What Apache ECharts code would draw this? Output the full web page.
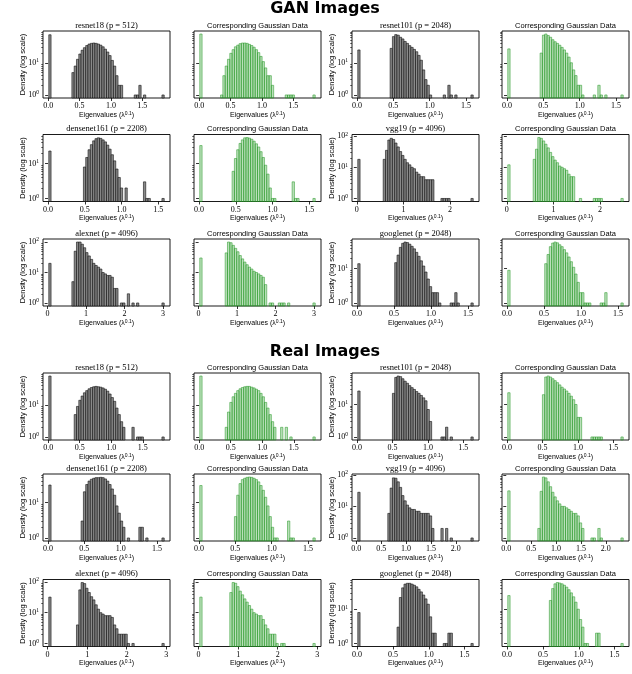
<!DOCTYPE html>
<html><head><meta charset="utf-8">
<script src="https://cdn.jsdelivr.net/npm/echarts@6/dist/echarts.min.js"></script>
<style>html,body{margin:0;padding:0;background:#fff}#c{width:632px;height:674px}</style>
</head><body><div id="c"></div><script>
// ---------- data: histogram counts (50 bins each) and eigenvalue ranges ----------
const ganResnet18 = [76,0,0,0,0,0,0,0,0,0, 5,8,13,19,25,30,35,39,41,42, 41,39,36,32,27,22,17,12,8,4, 2,2,0,0,0,0,0,1,1,2, 0,1,0,0,0,0,0,0,0,1];
const ganResnet18Gauss = [80,0,0,0,0,0,0,0,0,1, 4,8,13,20,26,32,36,40,42,42, 41,38,35,31,26,21,16,11,7,4, 4,2,0,0,0,0,0,1,1,1, 1,0,0,0,0,0,0,0,0,1];
const ganResnet101 = [25,0,0,0,0,0,0,0,0,0, 0,0,0,0,28,65,75,72,62,55, 46,40,34,30,26,22,17,12,6,3, 2,1,0,0,0,0,0,1,0,2, 1,0,1,0,0,0,0,0,0,1];
const ganResnet101Gauss = [27,0,0,0,0,0,0,0,0,0, 0,0,0,0,20,72,78,70,62,52, 45,40,35,30,25,20,15,10,6,4, 2,2,1,0,0,0,0,1,0,2, 1,0,1,0,0,0,0,0,0,1];
const ganDensenet161 = [23,0,0,0,0,0,0,0,0,0, 0,0,0,0,0,8,15,25,35,45, 52,55,53,48,42,34,26,18,12,7, 4,2,0,2,0,0,0,0,0,0, 0,3,1,1,0,0,0,0,0,1];
const ganDensenet161Gauss = [33,0,0,0,0,0,0,0,0,0, 0,0,0,0,6,14,25,38,48,55, 56,54,50,44,37,30,22,15,9,5, 2,1,1,0,0,0,0,0,0,0, 3,1,1,0,0,0,0,0,0,1];
const ganVgg19 = [18,0,0,0,0,0,0,0,0,0, 0,18,35,75,85,78,60,45,32,24, 18,14,12,10,9,7,6,5,5,4, 4,4,4,0,0,0,1,1,1,1, 0,0,0,0,0,0,0,0,0,1];
const ganVgg19Gauss = [12,0,0,0,0,0,0,0,0,0, 0,18,38,90,85,70,55,42,30,22, 17,14,11,10,9,8,6,5,5,0, 0,1,0,0,0,0,0,1,1,1, 1,0,0,0,0,0,0,0,0,1];
const ganAlexnet = [20,0,0,0,0,0,0,0,0,0, 5,50,100,100,85,65,45,35,27,20, 17,15,13,10,9,8,8,7,3,3, 0,1,1,0,2,0,1,0,1,0, 0,0,0,0,0,0,0,0,0,1];
const ganAlexnetGauss = [30,0,0,0,0,0,0,0,0,0, 0,44,100,95,78,62,48,36,28,22, 18,15,13,11,10,9,8,7,4,0, 1,1,0,0,1,1,1,0,1,0, 0,0,0,0,0,0,0,0,0,1];
const ganGooglenet = [14,0,0,0,0,0,0,0,0,0, 0,0,0,0,0,0,15,25,42,55, 60,58,52,45,38,30,23,17,12,8, 5,3,2,2,2,1,0,0,0,0, 1,1,2,1,0,0,0,0,0,1];
const ganGooglenetGauss = [9,0,0,0,0,0,0,0,0,0, 0,0,0,0,0,0,14,26,44,56, 60,57,50,44,36,29,22,16,11,7, 4,2,2,1,1,1,0,0,0,0, 1,1,2,0,0,0,0,0,0,1];
const realResnet18 = [80,0,0,0,0,0,0,0,0,0, 0,5,9,14,19,24,28,32,35,37, 38,37,36,34,31,27,22,17,13,8, 5,3,2,0,0,0,2,0,1,1, 1,0,0,0,0,0,0,0,0,1];
const realResnet18Gauss = [80,0,0,0,0,0,0,0,0,0, 0,2,6,12,18,23,28,32,35,37, 38,38,36,34,31,28,23,18,12,8, 5,3,2,0,0,2,0,2,0,1, 0,0,0,0,0,0,0,0,0,1];
const realResnet101 = [26,0,0,0,0,0,0,0,0,0, 0,0,0,0,0,22,68,75,72,62, 52,45,38,33,29,25,22,19,16,13, 7,3,0,0,0,0,1,1,2,0, 1,0,0,0,0,0,0,0,0,1];
const realResnet101Gauss = [23,0,0,0,0,0,0,0,0,0, 0,0,0,0,0,20,70,75,70,62, 54,47,40,34,30,26,22,18,14,10, 4,4,0,0,0,0,1,1,1,1, 1,0,0,0,0,0,0,0,0,1];
const realDensenet161 = [31,0,0,0,0,0,0,0,0,0, 0,0,0,0,3,20,32,40,45,48, 50,50,51,50,46,40,32,24,16,8, 5,3,2,0,1,0,0,0,0,2, 2,0,1,0,0,0,0,0,0,1];
const realDensenet161Gauss = [30,0,0,0,0,0,0,0,0,0, 0,0,0,0,0,4,16,34,44,48, 51,52,51,48,44,38,30,22,14,8, 4,2,1,1,0,0,0,0,3,1, 1,0,0,0,0,0,0,0,0,1];
const realVgg19 = [28,0,0,0,0,0,0,0,0,0, 0,0,0,6,38,80,78,60,40,22, 15,11,9,8,8,7,7,6,6,6, 6,5,2,0,0,0,2,0,2,0, 1,0,0,0,0,0,0,0,0,1];
const realVgg19Gauss = [31,0,0,0,0,0,0,0,0,0, 0,0,0,2,30,85,80,60,42,28, 20,15,12,10,10,9,8,7,6,6, 5,3,2,0,0,0,1,1,0,2, 1,0,0,0,0,0,0,0,0,1];
const realAlexnet = [32,0,0,0,0,0,0,0,0,0, 0,0,4,55,95,88,62,45,33,26, 18,13,10,9,8,8,8,7,4,3, 2,2,2,2,1,0,1,0,0,0, 0,0,0,0,0,0,0,0,0,1];
const realAlexnetGauss = [32,0,0,0,0,0,0,0,0,0, 0,0,0,45,95,90,70,50,38,28, 22,17,13,10,9,8,8,6,4,3, 2,2,2,1,0,1,1,0,0,0, 0,0,0,0,0,0,0,0,0,1];
const realGooglenet = [8,0,0,0,0,0,0,0,0,0, 0,0,0,0,0,0,0,3,22,42, 54,57,57,54,50,45,38,32,26,20, 14,6,2,2,0,0,0,1,1,2, 2,0,0,0,0,0,0,0,0,1];
const realGooglenetGauss = [25,0,0,0,0,0,0,0,0,0, 0,0,0,0,0,0,0,0,18,40, 55,60,58,55,50,44,37,30,23,16, 10,5,3,1,1,0,0,0,2,2, 0,0,0,0,0,0,0,0,0,1];

// eigenvalue (lambda^0.1) ranges [min, max] of each histogram
const rangeGanResnet18 = [0.01, 1.85];
const rangeGanResnet101 = [0.01, 1.60];
const rangeGanDensenet161 = [0.01, 1.58];
const rangeGanVgg19 = [0.02, 2.50];
const rangeGanAlexnet = [0.03, 3.03];
const rangeGanGooglenet = [0.01, 1.57];
const rangeRealResnet18 = [0.01, 1.84];
const rangeRealResnet101 = [0.01, 1.64];
const rangeRealDensenet161 = [0.01, 1.60];
const rangeRealVgg19 = [0.03, 2.35];
const rangeRealAlexnet = [0.03, 2.95];
const rangeRealGooglenet = [0.01, 1.62];

// tick labels
const ticksHalf = [0, 0.5, 1, 1.5, 2, 2.5, 3];
const ticksInt = [0, 1, 2, 3];
const yMajorTicks = [1, 10, 100];
const yMinorTicks = [2,3,4,5,6,7,8,9,20,30,40,50,60,70,80,90,200];

const modelTitles = ['resnet18 (p = 512)', 'resnet101 (p = 2048)', 'densenet161 (p = 2208)', 'vgg19 (p = 4096)', 'alexnet (p = 4096)', 'googlenet (p = 2048)'];
const gaussTitle = 'Corresponding Gaussian Data';
const sectionTitles = ['GAN Images', 'Real Images'];

// pairs: [model counts, gaussian counts, range, ticks, title index]
const pairs = [
  [ganResnet18, ganResnet18Gauss, rangeGanResnet18, ticksHalf, 0],
  [ganResnet101, ganResnet101Gauss, rangeGanResnet101, ticksHalf, 1],
  [ganDensenet161, ganDensenet161Gauss, rangeGanDensenet161, ticksHalf, 2],
  [ganVgg19, ganVgg19Gauss, rangeGanVgg19, ticksInt, 3],
  [ganAlexnet, ganAlexnetGauss, rangeGanAlexnet, ticksInt, 4],
  [ganGooglenet, ganGooglenetGauss, rangeGanGooglenet, ticksHalf, 5],
  [realResnet18, realResnet18Gauss, rangeRealResnet18, ticksHalf, 0],
  [realResnet101, realResnet101Gauss, rangeRealResnet101, ticksHalf, 1],
  [realDensenet161, realDensenet161Gauss, rangeRealDensenet161, ticksHalf, 2],
  [realVgg19, realVgg19Gauss, rangeRealVgg19, ticksHalf, 3],
  [realAlexnet, realAlexnetGauss, rangeRealAlexnet, ticksInt, 4],
  [realGooglenet, realGooglenetGauss, rangeRealGooglenet, ticksHalf, 5],
];

// ---------- layout ----------
const colLeft = [43, 194, 352, 502];
const rowTop = [31, 134.5, 239, 373, 474, 579.5];
const W = 127, H = 67;
const NBINS = 50;
const SERIF = 'Liberation Serif';
const SANS = 'Liberation Sans';

const grids = [], xAxes = [], yAxes = [], series = [], graphics = [];
let yIdx = 0;

pairs.forEach((pair, pi) => {
  const [mCounts, gCounts, range, ticks, titleIdx] = pair;
  const maxC = Math.max(...mCounts, ...gCounts);
  const L = Math.log10(maxC);
  const yMin = Math.pow(10, -0.05 * L), yMax = Math.pow(10, 1.05 * L);
  const row = Math.floor(pi / 2);
  const colBase = (pi % 2) * 2;
  [mCounts, gCounts].forEach((counts, k) => {
    const p = grids.length;
    const col = colBase + k;
    const gauss = k === 1;
    const left = colLeft[col], top = rowTop[row];
    grids.push({left, top, width: W, height: H, show: true, borderColor: '#000', borderWidth: 0.9,
      backgroundColor: 'transparent', containLabel: false, outerBoundsMode: 'none'});
    const lo = range[0], hi = range[1], R = hi - lo, w = R / NBINS;
    const xMin = lo - 0.05 * R, xMax = hi + 0.05 * R;
    const tv = ticks.filter(t => t >= xMin && t <= xMax);
    const isInt = ticks === ticksInt;
    xAxes.push({gridIndex: p, type: 'value', min: xMin, max: xMax,
      axisLine: {show: false}, splitLine: {show: false},
      axisTick: {show: true, length: 3, customValues: tv, lineStyle: {color: '#000', width: 0.8}},
      axisLabel: {customValues: tv, margin: 4, color: '#000', fontFamily: SERIF, fontSize: 8,
        formatter: v => isInt ? String(Math.round(v)) : v.toFixed(1)},
      name: 'Eigenvalues (λ{s|0.1})', nameLocation: 'middle', nameGap: 13, nameMoveOverlap: false,
      nameTextStyle: {color: '#000', fontFamily: SANS, fontSize: 7,
        rich: {s: {fontSize: 5, fontFamily: SANS, color: '#000', verticalAlign: 'top', padding: [0, 0, 3, 0]}}}
    });
    const majors = yMajorTicks.filter(t => t >= yMin && t <= yMax);
    const minors = yMinorTicks.filter(t => t >= yMin && t <= yMax);
    const majorIdx = yIdx;
    yAxes.push({gridIndex: p, type: 'log', logBase: 10, min: yMin, max: yMax, position: 'left', offset: 0,
      axisLine: {show: false}, splitLine: {show: false},
      axisTick: {show: true, length: 3, customValues: majors, lineStyle: {color: '#000', width: 0.8}},
      axisLabel: {show: !gauss, customValues: majors, margin: 4, color: '#000', fontFamily: SERIF, fontSize: 8,
        formatter: v => '10{s|' + Math.round(Math.log10(v)) + '}',
        rich: {s: {fontSize: 5.5, fontFamily: SERIF, color: '#000', verticalAlign: 'top', padding: [0, 0, 4, 0]}}},
      name: gauss ? '' : 'Density (log scale)', nameLocation: 'middle', nameRotate: 90, nameGap: 16,
      nameMoveOverlap: false,
      nameTextStyle: {color: '#000', fontFamily: SANS, fontSize: 7.5}
    });
    yIdx++;
    yAxes.push({gridIndex: p, type: 'log', logBase: 10, min: yMin, max: yMax, position: 'left', offset: 0,
      axisLine: {show: false}, splitLine: {show: false},
      axisTick: {show: true, length: 1.8, customValues: minors, lineStyle: {color: '#000', width: 0.6}},
      axisLabel: {show: false}
    });
    yIdx++;
    const data = [];
    counts.forEach((c, i) => { if (c > 0) data.push([lo + i * w, lo + (i + 1) * w, c]); });
    const fill = gauss ? 'rgba(44,160,44,0.32)' : '#8a8a8a';
    const stroke = gauss ? '#2a9a2a' : '#000';
    series.push({type: 'custom', xAxisIndex: p, yAxisIndex: majorIdx, data,
      encode: {x: [0, 1], y: 2}, silent: true, animation: false,
      renderItem: (params, api) => {
        const x0 = api.value(0), x1 = api.value(1), y = api.value(2);
        const b = api.coord([x0, yMin]);
        const t = api.coord([x1, y]);
        return {type: 'rect', shape: {x: b[0], y: t[1], width: t[0] - b[0], height: b[1] - t[1]},
          style: {fill, stroke, lineWidth: 0.55}};
      }
    });
    graphics.push({type: 'text', x: left + W / 2, y: top - 5.5, silent: true,
      style: {text: gauss ? gaussTitle : modelTitles[titleIdx], fill: '#000',
        fontFamily: gauss ? SANS : SERIF, fontSize: gauss ? 7.5 : 8.5, align: 'center', verticalAlign: 'middle'}});
  });
});

graphics.push({type: 'text', x: 325, y: 9, silent: true,
  style: {text: sectionTitles[0], fill: '#000', fontFamily: 'DejaVu Sans', fontWeight: 'bold', fontSize: 16, align: 'center', verticalAlign: 'middle'}});
graphics.push({type: 'text', x: 325, y: 352, silent: true,
  style: {text: sectionTitles[1], fill: '#000', fontFamily: 'DejaVu Sans', fontWeight: 'bold', fontSize: 16, align: 'center', verticalAlign: 'middle'}});

const chart = echarts.init(document.getElementById('c'), null, {renderer: 'canvas'});
chart.setOption({animation: false, backgroundColor: '#fff', grid: grids, xAxis: xAxes, yAxis: yAxes, series, graphic: graphics});
</script></body></html>
